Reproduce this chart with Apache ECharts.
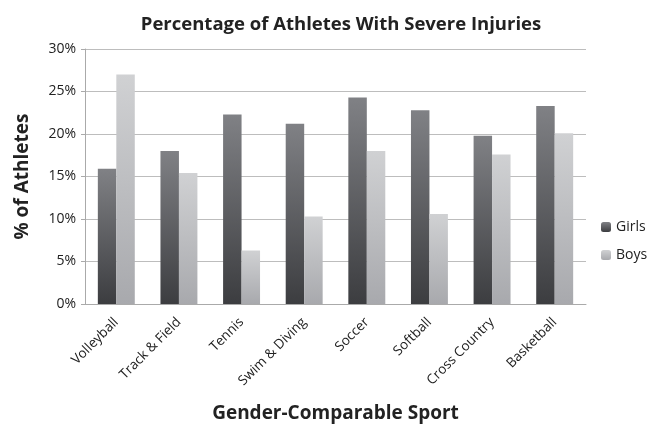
<!DOCTYPE html>
<html><head><meta charset="utf-8">
<script src="https://cdn.jsdelivr.net/npm/echarts@6/dist/echarts.min.js"></script>
<style>html,body{margin:0;padding:0;background:#fff}#c{width:658px;height:427px}</style>
</head><body><div id="c"></div>
<script>
const categories = ["Volleyball","Track & Field","Tennis","Swim & Diving","Soccer","Softball","Cross Country","Basketball"];
const girls = [15.9, 18.0, 22.3, 21.2, 24.3, 22.8, 19.8, 23.3];
const boys = [27.0, 15.4, 6.3, 10.3, 18.0, 10.6, 17.6, 20.1];
const yTicks = [0, 5, 10, 15, 20, 25, 30];

const FONT = "Open Sans";
const chart = echarts.init(document.getElementById('c'), null, {renderer:'canvas'});
const grad = (top, bottom) => new echarts.graphic.LinearGradient(0,0,0,1,[{offset:0,color:top},{offset:1,color:bottom}]);
chart.setOption({
  animation:false,
  textStyle:{fontFamily:FONT},
  title:{text:"Percentage of Athletes With Severe Injuries",left:336,textAlign:'center',top:10,
    textStyle:{fontFamily:FONT,fontSize:18.5,fontWeight:'bold',color:'#222'}},
  legend:{orient:'vertical',left:596,top:215,itemWidth:10,itemHeight:10,itemGap:14,
    textStyle:{fontFamily:FONT,fontSize:14,color:'#222'},
    data:["Girls","Boys"]},
  grid:{left:85,right:72,top:49,bottom:123,containLabel:false,outerBoundsMode:'none'},
  xAxis:{type:'category',data:categories,
    axisLine:{lineStyle:{color:'#aaa'}},axisTick:{show:false},
    axisLabel:{rotate:45,fontFamily:FONT,fontSize:13.5,color:'#222',interval:0,margin:16},
    name:"Gender-Comparable Sport",nameLocation:'middle',nameGap:100,
    nameTextStyle:{fontFamily:FONT,fontSize:19,fontWeight:'bold',color:'#222'}},
  yAxis:{type:'value',min:yTicks[0],max:yTicks[yTicks.length-1],interval:5,
    axisLine:{show:true,lineStyle:{color:'#aaa'}},axisTick:{show:true,length:4,lineStyle:{color:'#aaa'}},
    splitLine:{lineStyle:{color:'#bdbdbd'}},
    axisLabel:{formatter:v=>v+'%',fontFamily:FONT,fontSize:14,color:'#222',margin:9},
    name:"% of Athletes",nameLocation:'middle',nameGap:53,nameRotate:90,
    nameTextStyle:{fontFamily:FONT,fontSize:19,fontWeight:'bold',color:'#222'}},
  series:[
    {name:"Girls",type:'bar',data:girls,barGap:'0%',barCategoryGap:'41%',
      itemStyle:{color:grad('#808185','#3c3d40')}},
    {name:"Boys",type:'bar',data:boys,barGap:'0%',barCategoryGap:'41%',
      itemStyle:{color:grad('#d0d1d3','#a8a9ad')}}
  ]
});
</script></body></html>
